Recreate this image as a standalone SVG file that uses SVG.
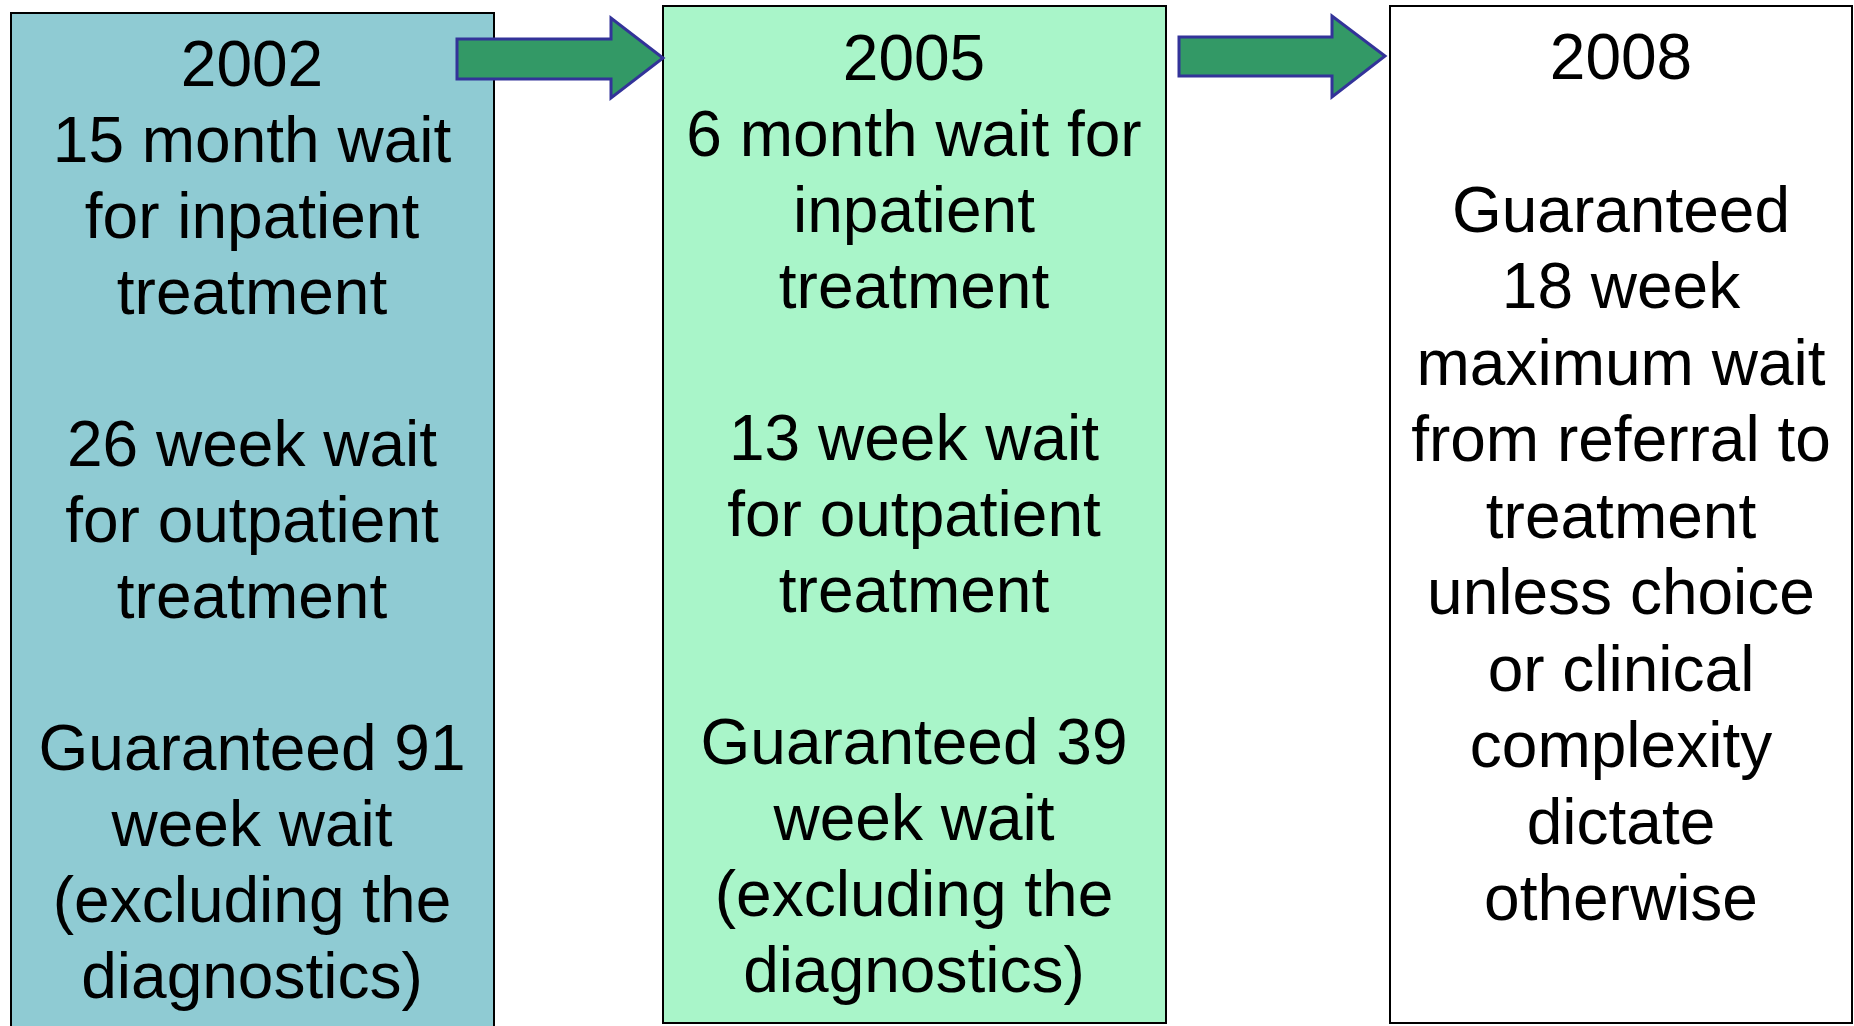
<svg xmlns="http://www.w3.org/2000/svg" width="1854" height="1026" viewBox="0 0 1854 1026">
<style>
.box{stroke:#000;stroke-width:2}
.t{font-family:"Liberation Sans",Arial,sans-serif;font-size:64px;fill:#000;text-anchor:middle}
.arr{fill:#339966;stroke:#333399;stroke-width:3;stroke-linejoin:miter}
</style>
<rect width="1854" height="1026" fill="#fff"/>
<g id="node-2002">
<rect class="box" x="11" y="13" width="483" height="1015" fill="#8FCBD3"/>
<text class="t" x="252" y="86">2002</text>
<text class="t" x="252" y="162">15 month wait</text>
<text class="t" x="252" y="238">for inpatient</text>
<text class="t" x="252" y="314">treatment</text>
<text class="t" x="252" y="466">26 week wait</text>
<text class="t" x="252" y="542">for outpatient</text>
<text class="t" x="252" y="618">treatment</text>
<text class="t" x="252" y="770">Guaranteed 91</text>
<text class="t" x="252" y="846">week wait</text>
<text class="t" x="252" y="922">(excluding the</text>
<text class="t" x="252" y="998">diagnostics)</text>
</g>
<g id="node-2005">
<rect class="box" x="663" y="6" width="503" height="1017" fill="#A9F5C9"/>
<text class="t" x="914" y="80">2005</text>
<text class="t" x="914" y="156">6 month wait for</text>
<text class="t" x="914" y="232">inpatient</text>
<text class="t" x="914" y="308">treatment</text>
<text class="t" x="914" y="460">13 week wait</text>
<text class="t" x="914" y="536">for outpatient</text>
<text class="t" x="914" y="612">treatment</text>
<text class="t" x="914" y="764">Guaranteed 39</text>
<text class="t" x="914" y="840">week wait</text>
<text class="t" x="914" y="916">(excluding the</text>
<text class="t" x="914" y="992">diagnostics)</text>
</g>
<g id="node-2008">
<rect class="box" x="1390" y="6" width="462" height="1017" fill="#fff"/>
<text class="t" x="1621" y="79">2008</text>
<text class="t" x="1621" y="232">Guaranteed</text>
<text class="t" x="1621" y="308">18 week</text>
<text class="t" x="1621" y="385">maximum wait</text>
<text class="t" x="1621" y="461">from referral to</text>
<text class="t" x="1621" y="538">treatment</text>
<text class="t" x="1621" y="614">unless choice</text>
<text class="t" x="1621" y="691">or clinical</text>
<text class="t" x="1621" y="767">complexity</text>
<text class="t" x="1621" y="844">dictate</text>
<text class="t" x="1621" y="920">otherwise</text>
</g>
<g id="connectors">
<polygon class="arr" points="457,39 611,39 611,18 663,58 611,98 611,79 457,79"/>
<polygon class="arr" points="1179,37 1332,37 1332,16 1385,56 1332,97 1332,76 1179,76"/>
</g>
</svg>
